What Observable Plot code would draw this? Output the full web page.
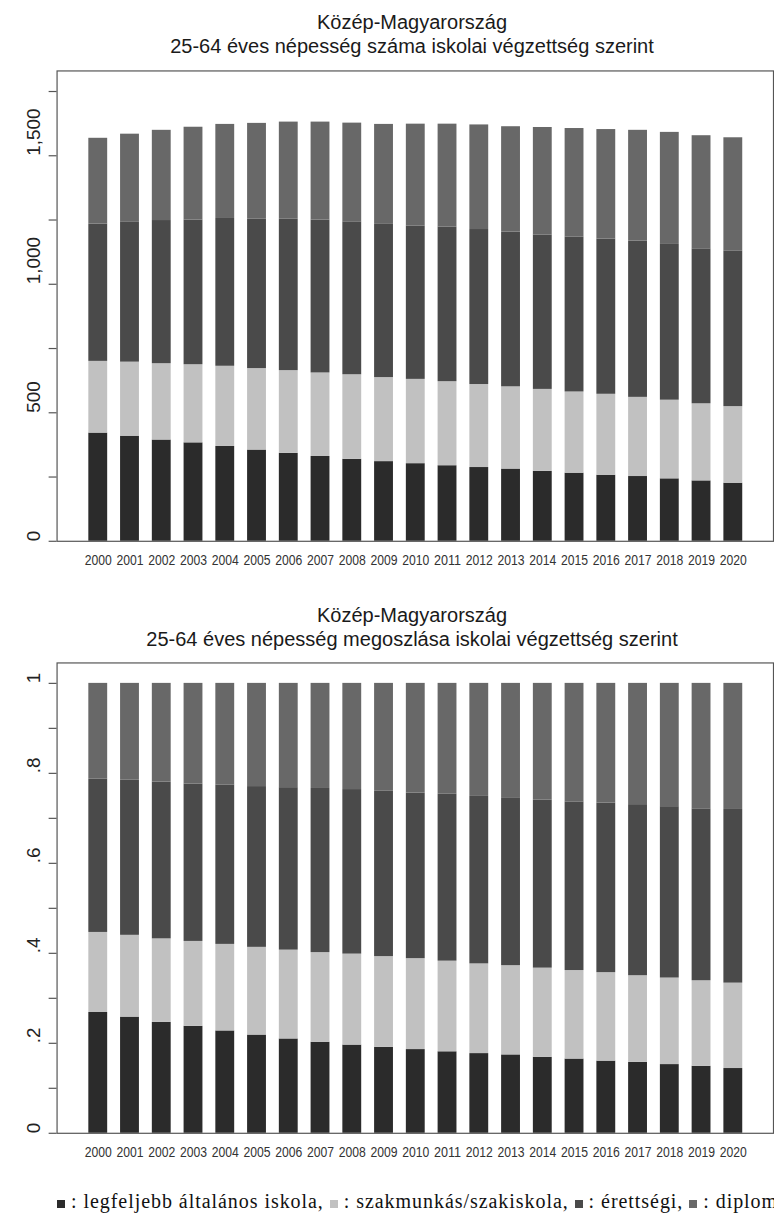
<!DOCTYPE html>
<html><head><meta charset="utf-8">
<script src="https://cdn.jsdelivr.net/npm/d3@7"></script>
<script src="https://cdn.jsdelivr.net/npm/@observablehq/plot@0.6"></script>
<style>
html,body{margin:0;padding:0;background:#fff;}
body{width:774px;height:1213px;overflow:hidden;position:relative;}
.title{position:absolute;left:0;width:824px;text-align:center;font-family:"Liberation Sans",Arial,sans-serif;font-size:20px;color:#1a1a1a;line-height:24px;}
.chart{position:absolute;left:0;}
#legend{position:absolute;left:57px;top:1191px;white-space:nowrap;font-family:"Liberation Serif","Times New Roman",serif;font-size:20px;letter-spacing:0.95px;line-height:20px;color:#111;}
.sw{display:inline-block;width:8px;height:8px;vertical-align:0px;}
</style></head>
<body>
<div class="title" style="top:10px">Közép-Magyarország<br>25-64 éves népesség száma iskolai végzettség szerint</div>
<div class="chart" id="c1" style="top:0px"></div>
<div class="title" style="top:603px">Közép-Magyarország<br>25-64 éves népesség megoszlása iskolai végzettség szerint</div>
<div class="chart" id="c2" style="top:592px"></div>
<div id="legend"></div>
<script>
const years = [2000,2001,2002,2003,2004,2005,2006,2007,2008,2009,2010,2011,2012,2013,2014,2015,2016,2017,2018,2019,2020];
const categories = ["legfeljebb általános iskola","szakmunkás/szakiskola","érettségi","diploma"];
const colors = ["#2b2b2b","#c1c1c1","#4a4a4a","#686868"];
// values in thousands
const legfeljebb = [421,409,394,383,369,355,342,330,319,310,302,294,287,281,272,265,257,252,243,235,226];
const szakmunkas = [279,288,297,304,312,317,322,325,329,327,328,327,323,320,319,316,315,308,306,300,298];
const erettsegi  = [534,546,557,563,575,581,589,595,595,596,597,602,603,602,601,602,604,608,606,603,606];
const diploma    = [334,341,351,361,366,373,378,381,384,389,396,400,407,410,418,423,426,431,436,440,440];

const countTicksMinor = [0,250,500,750,1000,1250,1500,1750];
const countTicks = [0,500,1000,1500];
const countTickLabels = ["0","500","1,000","1,500"];
const shareTicksMinor = [0,0.1,0.2,0.3,0.4,0.5,0.6,0.7,0.8,0.9,1];
const shareTicks = [0,0.2,0.4,0.6,0.8,1];
const shareTickLabels = ["0",".2",".4",".6",".8","1"];

const series = [legfeljebb, szakmunkas, erettsegi, diploma];
const rows = categories.flatMap((c, i) => years.map((y, j) => ({year: y, cat: c, value: series[i][j]})));

function chart({yMax, offset, minor, major, labels}) {
  const svg = Plot.plot({
    width: 780, height: 575, marginTop: 71, marginBottom: 30, marginLeft: 57, marginRight: 1,
    style: {fontFamily: "Liberation Sans, Arial, sans-serif", background: "transparent"},
    x: {type: "band", domain: years, paddingInner: 0.4175, paddingOuter: 0.776, label: null, axis: null},
    y: {domain: [0, yMax], axis: null, label: null},
    color: {domain: categories, range: colors},
    marks: [
      Plot.barY(rows, {x: "year", y: "value", fill: "cat", offset}),
      Plot.frame({stroke: "#555", strokeWidth: 1.2}),
      Plot.axisY({ticks: minor, tickSize: 8, tickFormat: () => "", label: null, stroke: "#555", strokeWidth: 1.2}),
      Plot.text(major, {y: d => d, text: (d, i) => labels[i], frameAnchor: "left", dx: -23, rotate: -90, fontSize: 19, fill: "#222"}),
      Plot.axisX({tickSize: 0, tickPadding: 14, fontSize: 14, fill: "#333", label: null, tickFormat: d => String(d)})
    ]
  });
  svg.querySelectorAll('[aria-label="x-axis tick label"] text').forEach(t => {
    t.setAttribute("textLength", "27.3");
    t.setAttribute("lengthAdjust", "spacingAndGlyphs");
  });
  return svg;
}

document.getElementById("c1").appendChild(chart({yMax: 1830, offset: null, minor: countTicksMinor, major: countTicks, labels: countTickLabels}));
document.getElementById("c2").appendChild(chart({yMax: 1.0454, offset: "normalize", minor: shareTicksMinor, major: shareTicks, labels: shareTickLabels}));

const legend = document.getElementById("legend");
categories.forEach((c, i) => {
  const sw = document.createElement("span");
  sw.className = "sw";
  sw.style.background = colors[i];
  legend.appendChild(sw);
  legend.appendChild(document.createTextNode(" : " + c + (i < categories.length - 1 ? ", " : "")));
});
</script>
</body></html>
